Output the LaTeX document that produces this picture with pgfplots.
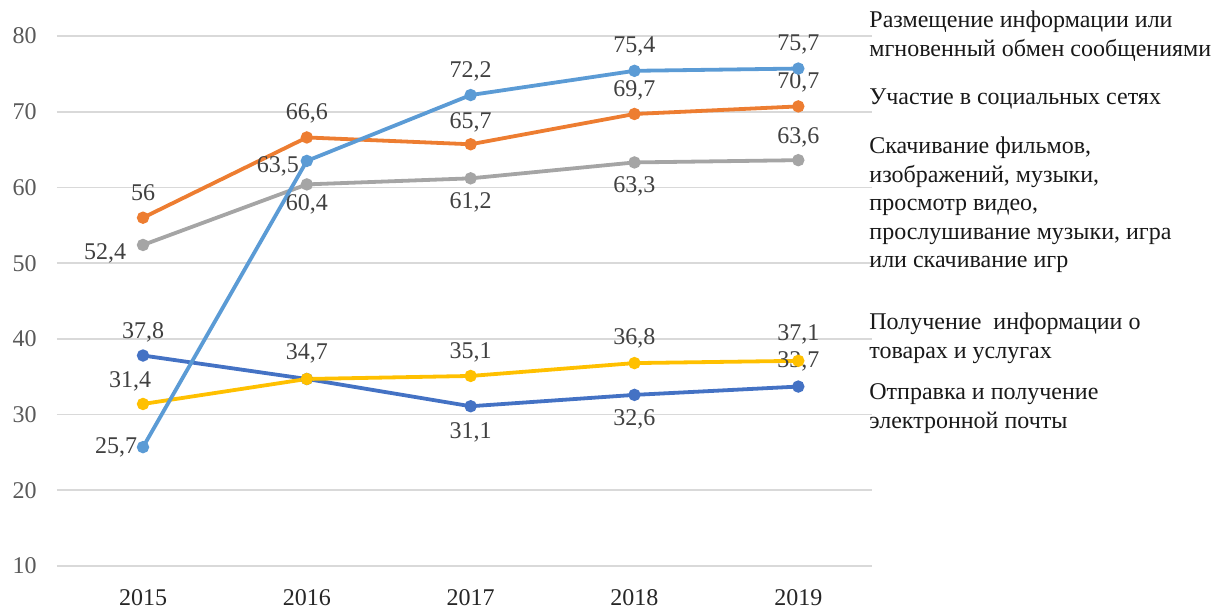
\documentclass[border=0pt]{standalone}
\usepackage{pgfplots}
\pgfplotsset{compat=1.18}
\usepackage{pgfplotstable}
\usepackage{fontspec}
\setmainfont{Liberation Serif}
\definecolor{clblue}{HTML}{5B9BD5}
\definecolor{corange}{HTML}{ED7D31}
\definecolor{cgray}{HTML}{A5A5A5}
\definecolor{cyellow}{HTML}{FFC000}
\definecolor{cdblue}{HTML}{4472C4}
\definecolor{clabel}{HTML}{404040}
\definecolor{ctick}{HTML}{595959}
\definecolor{cgrid}{HTML}{D9D9D9}

\pgfplotstableread{
x y lab dx dy
0 25.7 25,7 -13.5 0
1 63.5 63,5 -14.5 -2.5
2 72.2 72,2 0 12
3 75.4 75,4 0 12
4 75.7 75,7 0 12
}\lblue
\pgfplotstableread{
x y lab dx dy
0 56.0 56 0 12.5
1 66.6 66,6 0 12
2 65.7 65,7 0 11
3 69.7 69,7 0 12
4 70.7 70,7 0 12
}\orange
\pgfplotstableread{
x y lab dx dy
0 52.4 52,4 -19 -4
1 60.4 60,4 0 -10
2 61.2 61,2 0 -12
3 63.3 63,3 0 -12
4 63.6 63,6 0 11.5
}\gray
\pgfplotstableread{
x y lab dx dy
0 31.4 31,4 -6.5 11.5
1 34.7 34,7 0 13
2 35.1 35,1 0 12
3 36.8 36,8 0 12.5
4 37.1 37,1 0 13
}\yellow
\pgfplotstableread{
x y lab dx dy
0 37.8 37,8 0 11.5
1 34.7 {} 0 0
2 31.1 31,1 0 -13
3 32.6 32,6 0 -12.5
4 33.7 33,7 0 12.5
}\dblue

\begin{document}
\fontsize{12}{14.25}\selectfont
\begin{tikzpicture}
\begin{axis}[
  scale only axis,
  width=407.5pt, height=265pt,
  xmin=-0.525, xmax=4.45,
  ymin=10, ymax=80,
  ytick={10,20,...,80},
  xtick={0,1,2,3,4},
  xticklabels={2015,2016,2017,2018,2019},
  axis line style={draw=none},
  major tick length=0pt,
  ymajorgrids,
  major grid style={cgrid, line width=0.9pt},
  /pgf/number format/assume math mode=true,
  yticklabel style={font=\fontsize{12}{14}\selectfont, text=ctick, anchor=east, xshift=-6pt},
  xticklabel style={font=\fontsize{12}{14}\selectfont, text=black!85, anchor=center, yshift=-16pt},
  clip=false,
  every axis plot/.append style={line width=1.9pt, mark=*, mark size=2.1pt},
  nodes near coords,
  point meta=explicit symbolic,
  visualization depends on={\thisrow{dx} \as \dx},
  visualization depends on={\thisrow{dy} \as \dy},
  nodes near coords style={anchor=center, text=clabel, font=\fontsize{12}{14}\selectfont, xshift=\dx pt, yshift=\dy pt},
]
\addplot[color=cdblue] table[x=x, y=y, meta=lab] {\dblue};
\addplot[color=cyellow] table[x=x, y=y, meta=lab] {\yellow};
\addplot[color=cgray] table[x=x, y=y, meta=lab] {\gray};
\addplot[color=corange] table[x=x, y=y, meta=lab] {\orange};
\addplot[color=clblue] table[x=x, y=y, meta=lab] {\lblue};
\end{axis}
\path[use as bounding box] (-28.5pt,-21pt) rectangle (578pt,283pt);
\begin{scope}[every node/.style={anchor=west, align=left, inner sep=0pt, text=black!90, font=\fontsize{12}{14.25}\selectfont}]
\node at (406pt,265pt) {Размещение информации или\\мгновенный обмен сообщениями};
\node at (406pt,233.5pt) {Участие в социальных сетях};
\node at (406pt,180.5pt) {Скачивание фильмов,\\изображений, музыки,\\просмотр видео,\\прослушивание музыки, игра\\или скачивание игр};
\node at (406pt,113.75pt) {Получение \ информации о\\товарах и услугах};
\node at (406pt,78.75pt) {Отправка и получение\\электронной почты};
\end{scope}
\end{tikzpicture}
\end{document}
